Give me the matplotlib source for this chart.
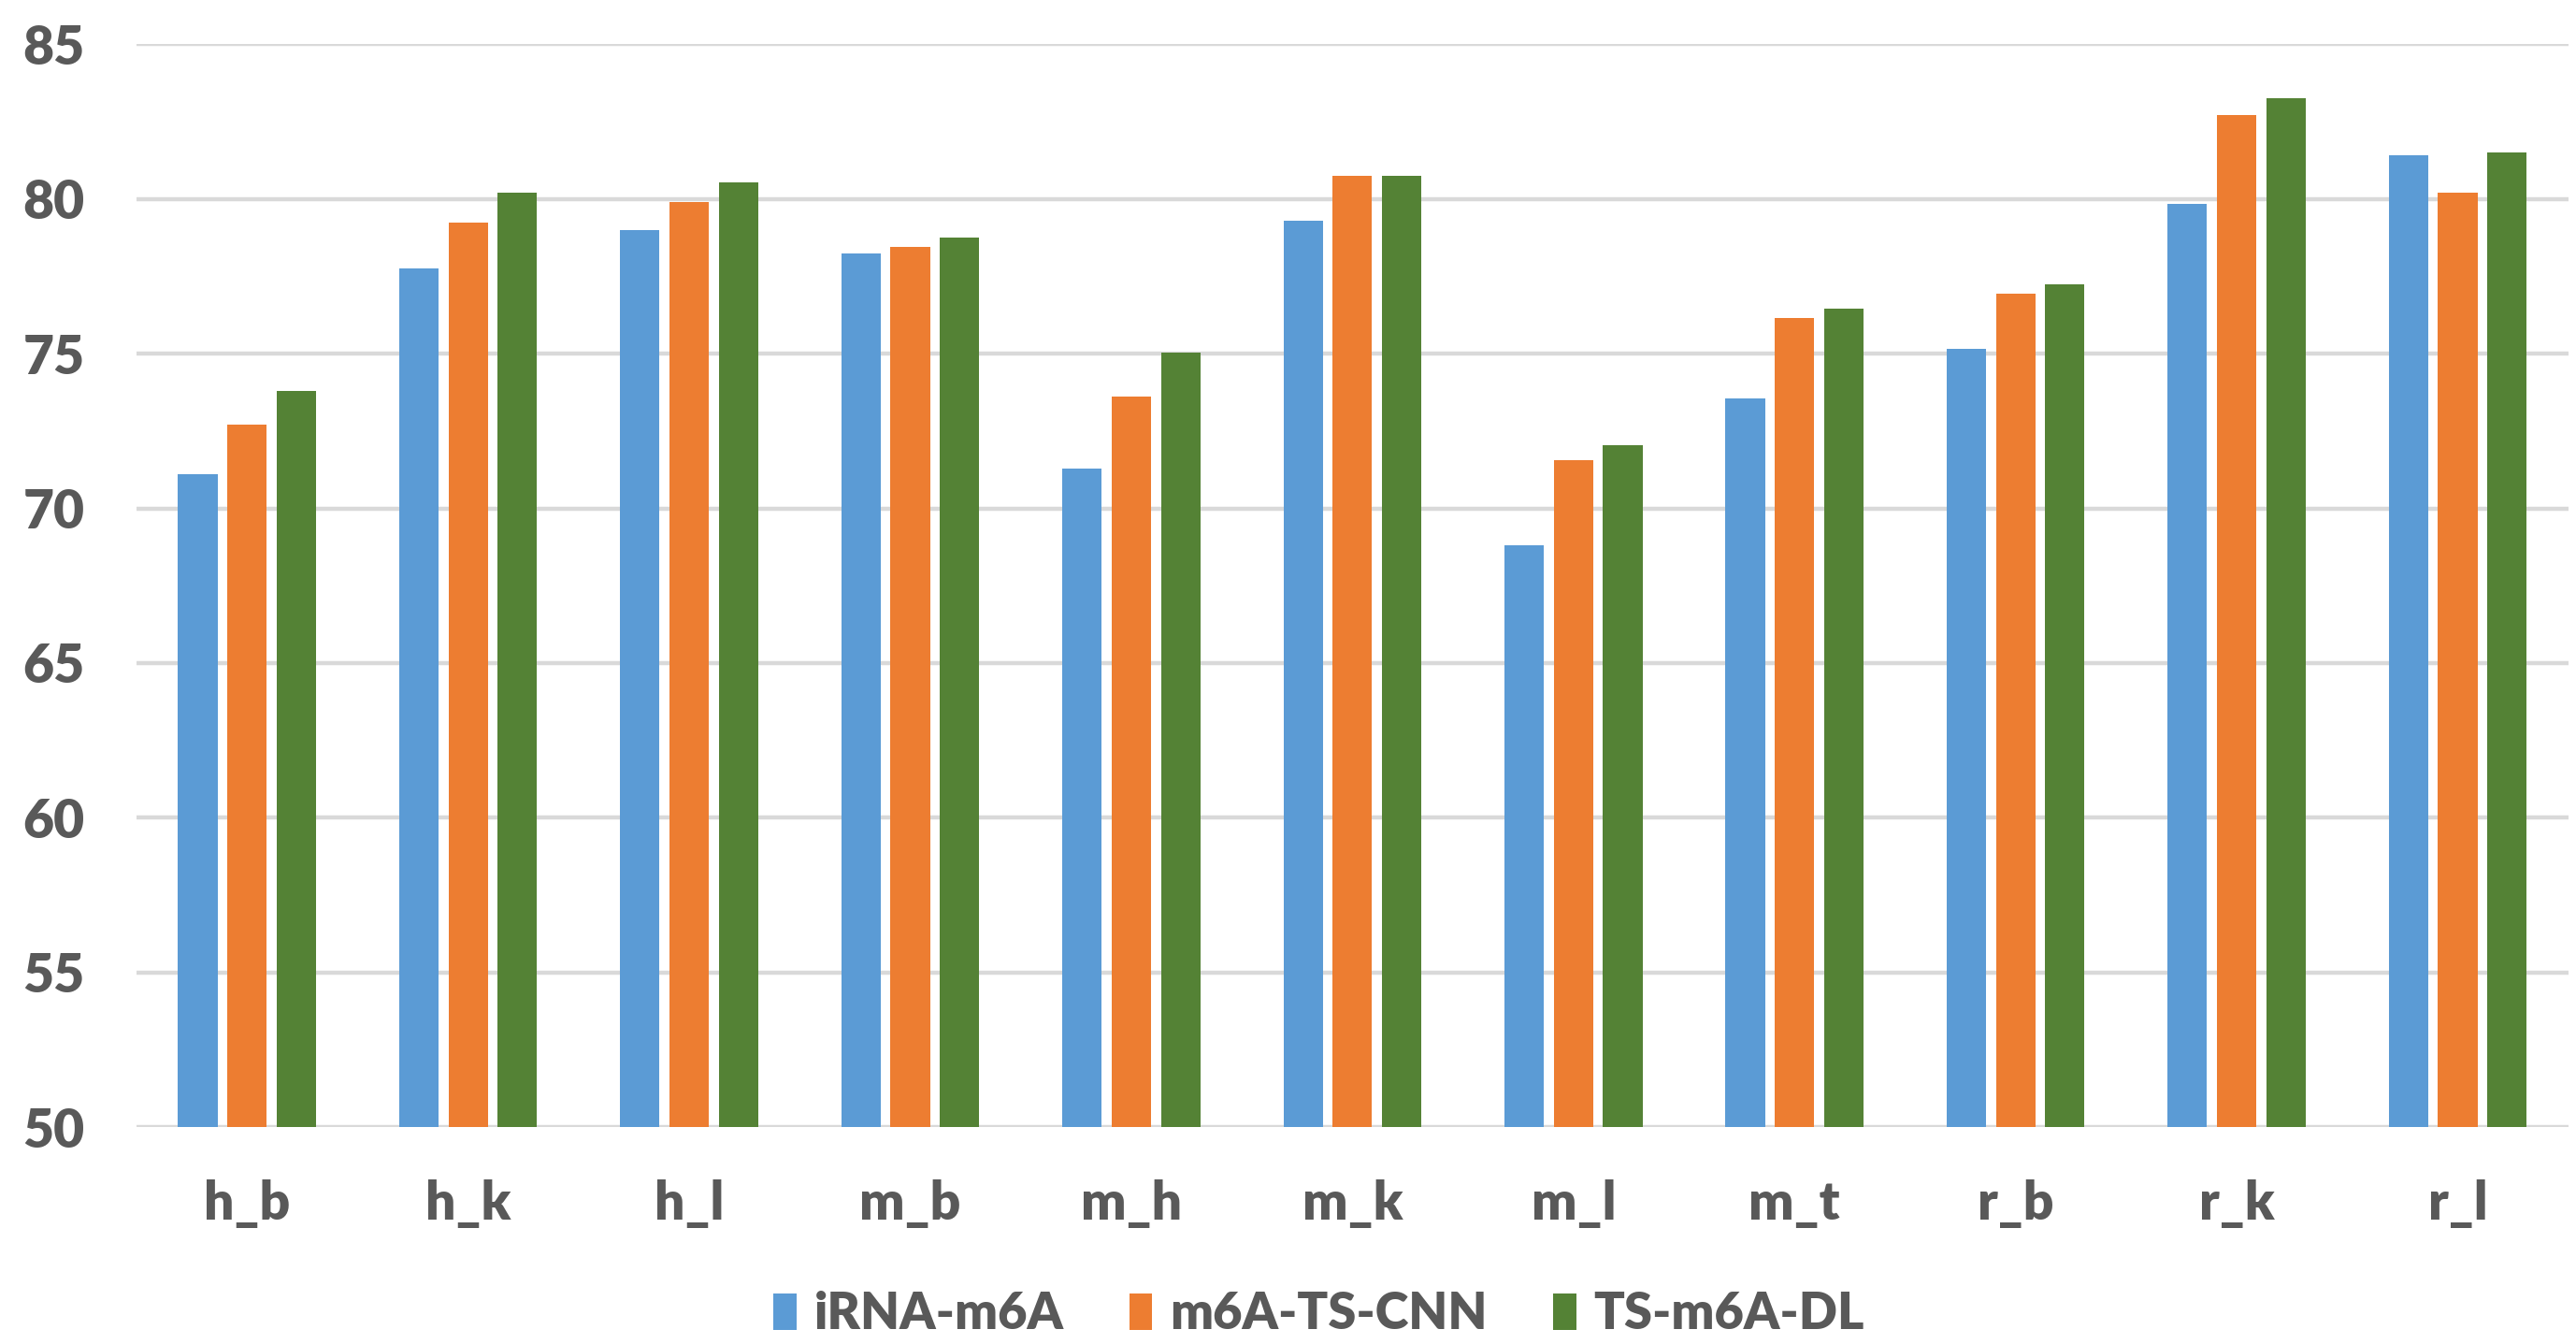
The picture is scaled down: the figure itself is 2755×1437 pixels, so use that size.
import matplotlib
matplotlib.use("Agg")
import matplotlib.pyplot as plt
import numpy as np

categories = ["h_b", "h_k", "h_l", "m_b", "m_h", "m_k", "m_l", "m_t", "r_b", "r_k", "r_l"]
irna_m6a = [71.1, 77.75, 79.0, 78.25, 71.3, 79.3, 68.8, 73.55, 75.15, 79.85, 81.4]
m6a_ts_cnn = [72.7, 79.25, 79.9, 78.45, 73.6, 80.75, 71.55, 76.15, 76.95, 82.7, 80.2]
ts_m6a_dl = [73.8, 80.2, 80.55, 78.75, 75.05, 80.75, 72.05, 76.45, 77.25, 83.25, 81.5]
series_names = ["iRNA-m6A", "m6A-TS-CNN", "TS-m6A-DL"]
yticks = [50, 55, 60, 65, 70, 75, 80, 85]

colors = ["#5B9BD5", "#ED7D31", "#548235"]
text_color = "#595959"
font = "Lato"

fig = plt.figure(figsize=(27.55, 14.37), dpi=100)
ax = fig.add_axes([0.053, 0.1614, 0.944, 0.8056])

x = np.arange(len(categories))
width = 0.178
offset = 0.223
series = [irna_m6a, m6a_ts_cnn, ts_m6a_dl]
for i, (vals, name, c) in enumerate(zip(series, series_names, colors)):
    ax.bar(x + (i - 1) * offset, np.array(vals) - 50, bottom=50, width=width,
           color=c, label=name, zorder=3)

ax.set_ylim(50, 85)
ax.set_xlim(-0.5, len(categories) - 0.5)
ax.set_yticks(yticks)
ax.set_yticklabels([str(v) for v in yticks])
ax.set_xticks(x)
ax.set_xticklabels(categories)
for lbl in ax.get_yticklabels() + ax.get_xticklabels():
    lbl.set_fontfamily(font)
    lbl.set_fontweight("heavy")
    lbl.set_fontsize(41)
    lbl.set_color(text_color)
ax.tick_params(axis="y", length=0, pad=40)
ax.tick_params(axis="x", length=0, pad=40)
ax.yaxis.grid(True, color="#D9D9D9", linewidth=3.2, zorder=0)
ax.set_axisbelow(True)
for s in ax.spines.values():
    s.set_visible(False)

leg = fig.legend(loc="center", bbox_to_anchor=(0.512, 0.022), ncol=3, frameon=False,
                 prop={"family": font, "weight": "heavy", "size": 39},
                 handlelength=0.45, handleheight=0.75, handletextpad=0.35,
                 columnspacing=1.3)
for t in leg.get_texts():
    t.set_color(text_color)

fig.savefig("out.png", dpi=100)
